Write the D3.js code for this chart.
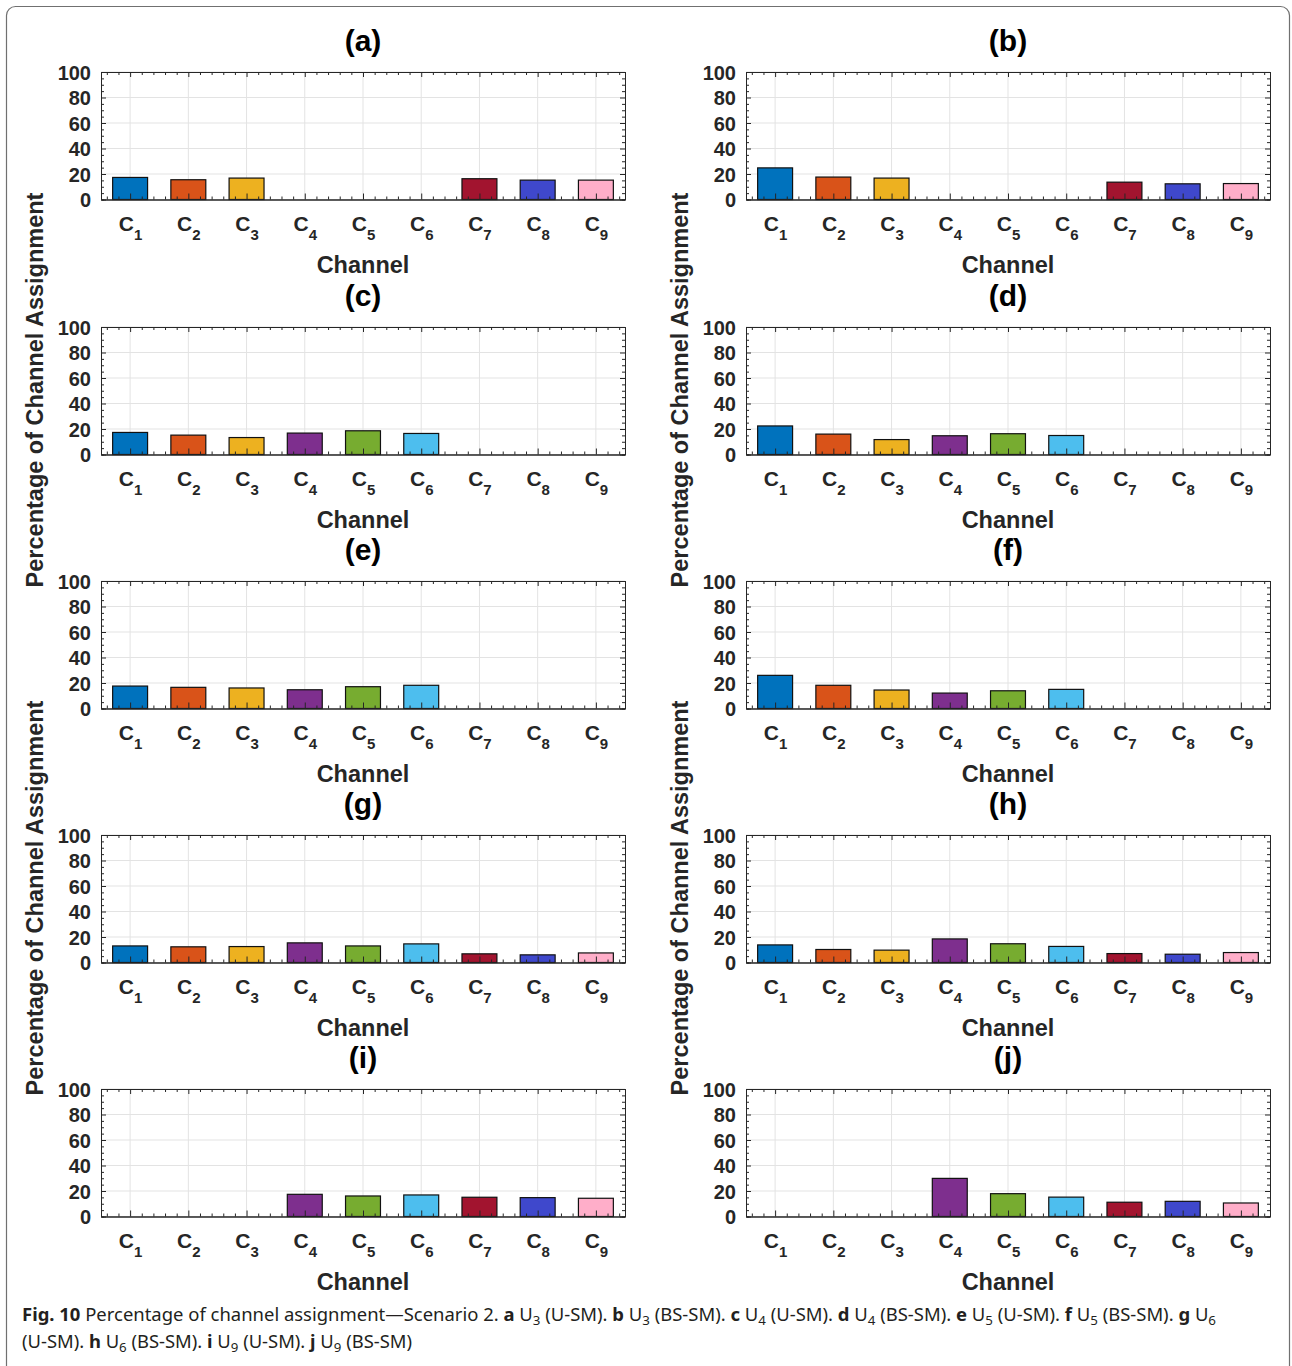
<!DOCTYPE html>
<html>
<head>
<meta charset="utf-8">
<script src="https://cdn.jsdelivr.net/npm/d3@7"></script>
<style>
  body { margin: 0; background: #fff; }
  svg text { font-family: "Liberation Sans", Arial, Helvetica, sans-serif; }
  .caption text { font-family: "Noto Sans", "Open Sans", sans-serif; white-space: pre; }
</style>
</head>
<body>
<svg id="fig" width="1292" height="1366"></svg>
<script>
// channel labels + colours (one per bar)
const channels = ['1', '2', '3', '4', '5', '6', '7', '8', '9'];
const barColors = ['#0072BD', '#D95319', '#EDB120', '#7E2F8E', '#77AC30',
                   '#4DBEEE', '#A2142F', '#3F48CC', '#FFAEC9'];
const yTicks = [0, 20, 40, 60, 80, 100];

// percentages
const panelA = [17.3, 15.5, 16.8, 0, 0, 0, 16.3, 15.2, 15.2];
const panelB = [24.8, 17.6, 16.8, 0, 0, 0, 13.6, 12.3, 12.5];
const panelC = [17.3, 15.2, 13.3, 16.8, 18.6, 16.5, 0, 0, 0];
const panelD = [22.4, 16.0, 11.7, 14.7, 16.3, 14.9, 0, 0, 0];
const panelE = [17.6, 16.6, 16.1, 14.7, 17.1, 18.2, 0, 0, 0];
const panelF = [26.0, 18.2, 14.5, 12.1, 13.9, 15.0, 0, 0, 0];
const panelG = [13.0, 12.3, 12.5, 15.4, 13.0, 14.6, 6.8, 6.0, 7.5];
const panelH = [13.8, 10.2, 9.7, 18.5, 14.7, 12.6, 7.0, 6.5, 7.8];
const panelI = [0, 0, 0, 17.4, 16.1, 16.9, 15.1, 14.8, 14.3];
const panelJ = [0, 0, 0, 29.9, 17.9, 15.2, 11.2, 11.9, 10.6];

const panelTitles = ['(a)', '(b)', '(c)', '(d)', '(e)', '(f)', '(g)', '(h)', '(i)', '(j)'];
const panelData = [panelA, panelB, panelC, panelD, panelE, panelF, panelG, panelH, panelI, panelJ];

const colLeft = [101, 746];
const rowTop = [72, 327, 581, 835, 1089];
const w = 524, h = 127.5;
const axisColor = '#262626';

const svg = d3.select('#fig');

// outer frame of the figure box
svg.append('rect')
    .attr('x', 6.5).attr('y', 6.5)
    .attr('width', 1283).attr('height', 1390)
    .attr('rx', 9)
    .attr('fill', 'none')
    .attr('stroke', '#707070')
    .attr('stroke-width', 1.2);

const x = d3.scaleLinear().domain([0.5, 9.5]).range([0, w]);
const y = d3.scaleLinear().domain([0, 100]).range([h, 0]);

const minorX = d3.range(3, 48).map(i => i / 5).filter(v => Math.abs(v - Math.round(v)) > 1e-6);
const minorY = d3.range(0, 101, 5).filter(v => v % 20 !== 0);

const styleAxis = (g) => {
    g.select('.domain').attr('stroke', axisColor).attr('stroke-width', 1);
    g.selectAll('.tick line').attr('stroke', axisColor).attr('stroke-width', 1);
};

panelData.forEach((values, i) => {
    const col = i % 2, row = Math.floor(i / 2);
    const g = svg.append('g')
        .attr('transform', `translate(${colLeft[col]},${rowTop[row]})`);

    // grid
    g.append('g').selectAll('line.gx')
        .data(d3.range(1, 10))
        .join('line')
        .attr('x1', d => x(d)).attr('x2', d => x(d))
        .attr('y1', 0).attr('y2', h)
        .attr('stroke', '#e3e3e3').attr('stroke-width', 1);
    g.append('g').selectAll('line.gy')
        .data(yTicks)
        .join('line')
        .attr('x1', 0).attr('x2', w)
        .attr('y1', d => y(d)).attr('y2', d => y(d))
        .attr('stroke', '#e3e3e3').attr('stroke-width', 1);

    // bars
    g.append('g').selectAll('rect')
        .data(values)
        .join('rect')
        .attr('x', (d, k) => x(k + 1 - 0.3))
        .attr('width', x(1.6) - x(1))
        .attr('y', d => y(d))
        .attr('height', d => y(0) - y(d))
        .attr('fill', (d, k) => barColors[k])
        .attr('stroke', '#111')
        .attr('stroke-width', 1.2);

    // minor ticks
    g.append('g').attr('transform', `translate(0,${h})`)
        .call(d3.axisBottom(x).tickValues(minorX).tickSize(-3).tickFormat(''))
        .call(styleAxis);
    g.append('g')
        .call(d3.axisTop(x).tickValues(minorX).tickSize(-3).tickFormat(''))
        .call(styleAxis);
    g.append('g')
        .call(d3.axisLeft(y).tickValues(minorY).tickSize(-3).tickFormat(''))
        .call(styleAxis);
    g.append('g').attr('transform', `translate(${w},0)`)
        .call(d3.axisRight(y).tickValues(minorY).tickSize(-3).tickFormat(''))
        .call(styleAxis);

    // major axes
    g.append('g').attr('transform', `translate(${w},0)`)
        .call(d3.axisRight(y).tickValues(yTicks).tickSizeInner(-5).tickSizeOuter(0).tickFormat(''))
        .call(styleAxis);
    g.append('g')
        .call(d3.axisTop(x).tickValues(d3.range(1, 10)).tickSizeInner(-5).tickSizeOuter(0).tickFormat(''))
        .call(styleAxis);

    const yAxis = g.append('g')
        .call(d3.axisLeft(y).tickValues(yTicks).tickSizeInner(-5).tickSizeOuter(0).tickPadding(10))
        .call(styleAxis);
    yAxis.selectAll('.tick text')
        .attr('fill', axisColor)
        .attr('font-size', 20)
        .attr('font-weight', 'bold')
        .attr('dy', '0.36em');

    const xAxis = g.append('g').attr('transform', `translate(0,${h})`)
        .call(d3.axisBottom(x).tickValues(d3.range(1, 10)).tickSizeInner(-6).tickSizeOuter(0))
        .call(styleAxis);
    xAxis.selectAll('.tick text').each(function (d) {
        const t = d3.select(this).text(null)
            .attr('y', 31).attr('dy', null)
            .attr('fill', axisColor)
            .attr('font-weight', 'bold');
        t.append('tspan').attr('font-size', 21).text('C');
        t.append('tspan').attr('font-size', 15).attr('dy', 9).text(channels[d - 1]);
    });

    // panel title
    g.append('text')
        .attr('x', w / 2).attr('y', -21)
        .attr('text-anchor', 'middle')
        .attr('font-size', 30).attr('font-weight', 'bold')
        .attr('fill', '#000')
        .text(panelTitles[i]);

    // x label
    g.append('text')
        .attr('x', w / 2).attr('y', h + 73)
        .attr('text-anchor', 'middle')
        .attr('font-size', 23.5).attr('font-weight', 'bold')
        .attr('fill', axisColor)
        .text('Channel');
});

// shared y labels
const yLabelPos = [[43, 390], [688, 390], [43, 898], [688, 898]];
svg.append('g').selectAll('text')
    .data(yLabelPos)
    .join('text')
    .attr('transform', d => `translate(${d[0]},${d[1]}) rotate(-90)`)
    .attr('text-anchor', 'middle')
    .attr('font-size', 23.5).attr('font-weight', 'bold')
    .attr('fill', axisColor)
    .text('Percentage of Channel Assignment');

// caption
const captionLine1 = [
    {t: 'Fig. 10', b: true}, {t: ' Percentage of channel assignment\u2014Scenario 2. '},
    {t: 'a', b: true}, {t: ' U'}, {t: '3', sub: true}, {t: ' (U-SM). '},
    {t: 'b', b: true}, {t: ' U'}, {t: '3', sub: true}, {t: ' (BS-SM). '},
    {t: 'c', b: true}, {t: ' U'}, {t: '4', sub: true}, {t: ' (U-SM). '},
    {t: 'd', b: true}, {t: ' U'}, {t: '4', sub: true}, {t: ' (BS-SM). '},
    {t: 'e', b: true}, {t: ' U'}, {t: '5', sub: true}, {t: ' (U-SM). '},
    {t: 'f', b: true}, {t: ' U'}, {t: '5', sub: true}, {t: ' (BS-SM). '},
    {t: 'g', b: true}, {t: ' U'}, {t: '6', sub: true}
];
const captionLine2 = [
    {t: '(U-SM). '},
    {t: 'h', b: true}, {t: ' U'}, {t: '6', sub: true}, {t: ' (BS-SM). '},
    {t: 'i', b: true}, {t: ' U'}, {t: '9', sub: true}, {t: ' (U-SM). '},
    {t: 'j', b: true}, {t: ' U'}, {t: '9', sub: true}, {t: ' (BS-SM)'}
];

const cap = svg.append('g').attr('class', 'caption');
[[captionLine1, 1321, 1194], [captionLine2, 1348, 390]].forEach(([segs, yy, len]) => {
    const t = cap.append('text')
        .attr('x', 22).attr('y', yy)
        .attr('font-size', 18)
        .attr('fill', '#231f20');
    let shifted = false;
    segs.forEach(s => {
        const ts = t.append('tspan').text(s.t);
        if (s.b) ts.attr('font-weight', 'bold');
        if (s.sub) { ts.attr('font-size', 13).attr('dy', 4); shifted = true; }
        else if (shifted) { ts.attr('dy', -4); shifted = false; }
    });
    const natural = t.node().getComputedTextLength();
    if (Math.abs(natural - len) > 2) t.attr('textLength', len).attr('lengthAdjust', 'spacingAndGlyphs');
});
</script>
</body>
</html>
